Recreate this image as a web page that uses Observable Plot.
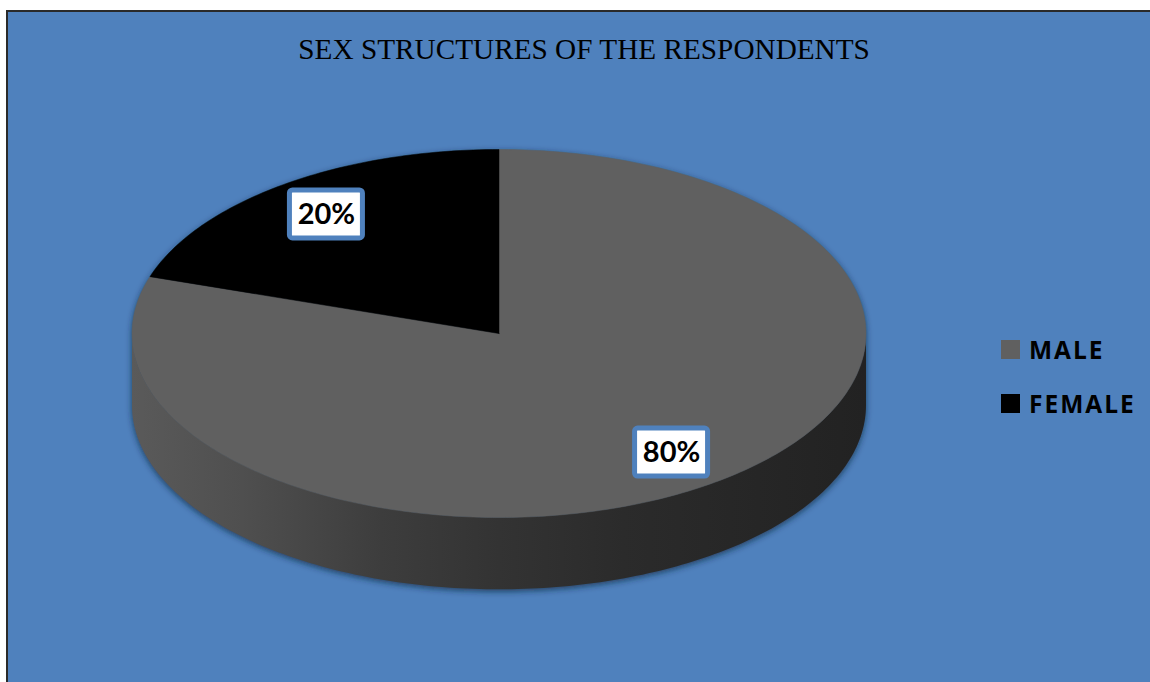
<!DOCTYPE html>
<html>
<head>
<meta charset="utf-8">
<script src="https://cdn.jsdelivr.net/npm/d3@7"></script>
<script src="https://cdn.jsdelivr.net/npm/@observablehq/plot@0.6"></script>
<style>
  html, body { margin: 0; padding: 0; background: #ffffff; width: 1150px; height: 682px; overflow: hidden; }
  #panel { position: absolute; left: 6px; top: 10px; width: 1144px; height: 672px; background: #4F81BD;
           border-left: 2px solid #2a2a2a; border-top: 2px solid #2a2a2a; box-sizing: border-box; }
  #title { position: absolute; left: 0; width: 1150px; top: 34.4px; text-align: center; line-height: 30px; white-space: nowrap; }
  #title span { display: inline-block; font-family: "Liberation Serif", "Times New Roman", serif; font-size: 30px;
                color: #000; transform: translateX(9px) scaleX(0.975); transform-origin: center; }
  #chart { position: absolute; left: 0; top: 0; width: 1150px; height: 682px; overflow: hidden; }
  #legend { position: absolute; left: 1001px; top: 322px; width: 140px; }
  #legend .lg-swatches { font-family: "Open Sans", sans-serif; font-weight: 700; font-size: 24.5px; letter-spacing: 2px;
                         color: #000; margin: 0; }
  #legend .lg-swatch { height: 54px; display: flex; align-items: center; padding: 0; }
  #legend .lg-swatch svg { margin-right: 9px; }
</style>
</head>
<body>
<div id="panel"></div>
<div id="title"><span>SEX STRUCTURES OF THE RESPONDENTS</span></div>
<div id="chart"></div>
<div id="legend"></div>
<script>
// ---- data ----
const categories = ["MALE", "FEMALE"];
const values = [80, 20];
const labels = ["80%", "20%"];

// ---- styles ----
const sliceColors = ["#606060", "#000000"];
const wallDepth = 0.39;      // thickness of the 3D disc, as a fraction of the vertical radius
const labelRadius = 0.8;     // label position along the slice's mid-angle

// ---- geometry derived from the data ----
const arcs = d3.pie().sort(null).startAngle(0).endAngle(2 * Math.PI)(values);
const step = Math.PI / 180;
const pt = (t, off = 0) => ({x: Math.sin(t), y: -Math.cos(t) + off});

const topPts = [];
arcs.forEach((a, i) => {
  const cat = categories[i];
  const n = Math.max(2, Math.ceil((a.endAngle - a.startAngle) / step));
  topPts.push({x: 0, y: 0, cat});
  for (let k = 0; k <= n; k++) topPts.push({...pt(a.startAngle + (a.endAngle - a.startAngle) * k / n), cat});
  topPts.push({x: 0, y: 0, cat});
});

// front wall: the visible part of each slice between 3 o'clock and 9 o'clock
const wallPts = [];
arcs.forEach((a, i) => {
  const cat = categories[i];
  const s = Math.max(a.startAngle, Math.PI / 2), e = Math.min(a.endAngle, 3 * Math.PI / 2);
  if (e <= s) return;
  const n = Math.max(2, Math.ceil((e - s) / step));
  for (let k = 0; k <= n; k++) wallPts.push({...pt(s + (e - s) * k / n), cat});
  for (let k = n; k >= 0; k--) wallPts.push({...pt(s + (e - s) * k / n, wallDepth), cat});
});

// outline of the whole disc, used for the soft shadow
const shadowPts = [];
for (let k = 0; k <= 180; k++) shadowPts.push(pt(-Math.PI / 2 + Math.PI * k / 180));
for (let k = 0; k <= 180; k++) shadowPts.push(pt(Math.PI / 2 + Math.PI * k / 180, wallDepth));

const labelPts = arcs.map((a, i) => {
  const m = (a.startAngle + a.endAngle) / 2;
  return {x: labelRadius * Math.sin(m), y: -labelRadius * Math.cos(m), label: labels[i]};
});

const chart = Plot.plot({
  width: 1150,
  height: 682,
  margin: 0,
  style: {background: "transparent", overflow: "visible"},
  x: {domain: [-1, 1], range: [131.5, 865.5], axis: null},
  y: {domain: [-1, 1], range: [149, 517], axis: null},
  color: {domain: categories, range: sliceColors},
  marks: [
    Plot.line(shadowPts, {x: "x", y: "y", fill: "#14283f", fillOpacity: 0.75, stroke: "none", dy: 2, ariaDescription: "pie shadow"}),
    Plot.line(wallPts, {x: "x", y: "y", z: "cat", fill: "url(#wallGrad)", stroke: "none"}),
    Plot.line(topPts, {x: "x", y: "y", z: "cat", fill: "cat", stroke: "cat", strokeWidth: 0.5}),
    Plot.rect(labelPts, {x1: "x", x2: "x", y1: "y", y2: "y", fill: "white", stroke: "#4F81BD", strokeWidth: 5, rx: 3,
                         insetLeft: -36.5, insetRight: -36.5, insetTop: -24, insetBottom: -24}),
    Plot.text(labelPts, {x: "x", y: "y", text: "label", fontFamily: "Lato, sans-serif", fontWeight: "bold", fontSize: 29, fill: "black"})
  ]
});

// gradient for the side wall and blur for the shadow
const svgNS = "http://www.w3.org/2000/svg";
const defs = document.createElementNS(svgNS, "defs");
defs.innerHTML = `
  <linearGradient id="wallGrad" x1="0" x2="1" y1="0" y2="0">
    <stop offset="0" stop-color="#5a5a5a"/>
    <stop offset="0.15" stop-color="#4f4f4f"/>
    <stop offset="0.34" stop-color="#3d3d3d"/>
    <stop offset="0.5" stop-color="#333333"/>
    <stop offset="0.67" stop-color="#2b2b2b"/>
    <stop offset="1" stop-color="#222222"/>
  </linearGradient>
  <filter id="softShadow" x="-5%" y="-5%" width="110%" height="110%">
    <feGaussianBlur stdDeviation="3"/>
  </filter>`;
chart.insertBefore(defs, chart.firstChild);
const sh = chart.querySelector('[aria-description="pie shadow"]');
if (sh) sh.setAttribute("filter", "url(#softShadow)");
document.getElementById("chart").appendChild(chart);

const legend = Plot.legend({
  color: {domain: categories, range: sliceColors},
  legend: "swatches",
  columns: 1,
  swatchSize: 19,
  className: "lg"
});
document.getElementById("legend").appendChild(legend);
</script>
</body>
</html>
